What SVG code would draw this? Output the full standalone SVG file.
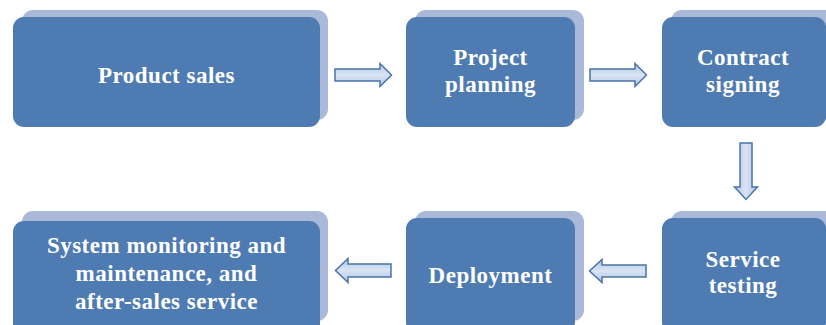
<svg xmlns="http://www.w3.org/2000/svg" width="826" height="325" viewBox="0 0 826 325">
<style>
.sh{fill:#aab9d7}
.bx{fill:#4e7bb1}
.t{font-family:"Liberation Serif","Times New Roman",serif;font-weight:bold;font-size:23px;fill:#ffffff;text-anchor:middle;letter-spacing:0.5px}
.ah{fill:url(#gh);stroke:#4a74a9;stroke-width:1.5;stroke-linejoin:miter}
.av{fill:url(#gv);stroke:#4a74a9;stroke-width:1.5;stroke-linejoin:miter}
</style>
<defs>
<linearGradient id="gh" x1="0" y1="0" x2="0" y2="1">
<stop offset="0" stop-color="#b3c8e6"/>
<stop offset="0.5" stop-color="#d9e4f3"/>
<stop offset="1" stop-color="#afc5e4"/>
</linearGradient>
<linearGradient id="gv" x1="0" y1="0" x2="1" y2="0">
<stop offset="0" stop-color="#b3c8e6"/>
<stop offset="0.5" stop-color="#d9e4f3"/>
<stop offset="1" stop-color="#afc5e4"/>
</linearGradient>
</defs>
<rect width="826" height="325" fill="#ffffff"/>
<g id="product-sales">
<rect class="sh" x="22" y="10" width="306" height="110" rx="11"/>
<rect class="bx" x="13" y="17" width="307" height="110" rx="11"/>
<text class="t" x="166.5" y="83">Product sales</text>
</g>
<g id="project-planning">
<rect class="sh" x="415" y="10" width="169" height="110" rx="11"/>
<rect class="bx" x="406" y="17" width="169" height="110" rx="11"/>
<text class="t" x="490.5" y="65">Project</text>
<text class="t" x="490.5" y="92">planning</text>
</g>
<g id="contract-signing">
<rect class="sh" x="671" y="10" width="169" height="110" rx="11"/>
<rect class="bx" x="662" y="17" width="164" height="110" rx="11"/>
<text class="t" x="743" y="65">Contract</text>
<text class="t" x="743" y="92">signing</text>
</g>
<g id="service-testing">
<rect class="sh" x="671" y="211" width="169" height="110" rx="11"/>
<rect class="bx" x="662" y="218" width="164" height="115" rx="11"/>
<text class="t" x="743" y="267">Service</text>
<text class="t" x="743" y="293">testing</text>
</g>
<g id="deployment">
<rect class="sh" x="415" y="211" width="169" height="110" rx="11"/>
<rect class="bx" x="406" y="218" width="169" height="115" rx="11"/>
<text class="t" x="490.5" y="283">Deployment</text>
</g>
<g id="system-monitoring">
<rect class="sh" x="22" y="211" width="306" height="110" rx="11"/>
<rect class="bx" x="13" y="221" width="307" height="115" rx="11"/>
<text class="t" x="166.5" y="253">System monitoring and</text>
<text class="t" x="166.5" y="281">maintenance, and</text>
<text class="t" x="166.5" y="309">after-sales service</text>
</g>
<g id="connectors">
<path class="ah" d="M335,69 H380 V63.5 L391.5,75 L380,86.5 V81 H335 Z"/>
<path class="ah" d="M590,69 H635 V63.5 L646.5,75 L635,86.5 V81 H590 Z"/>
<path class="av" d="M740,143 H752 V187 H757.5 L746,199.5 L734.5,187 H740 Z"/>
<path class="ah" d="M646,265 H602 V259.5 L589.5,271 L602,282.5 V277 H646 Z"/>
<path class="ah" d="M391,264 H348 V258.5 L335.5,270.5 L348,282.5 V277 H391 Z"/>
</g>
</svg>
